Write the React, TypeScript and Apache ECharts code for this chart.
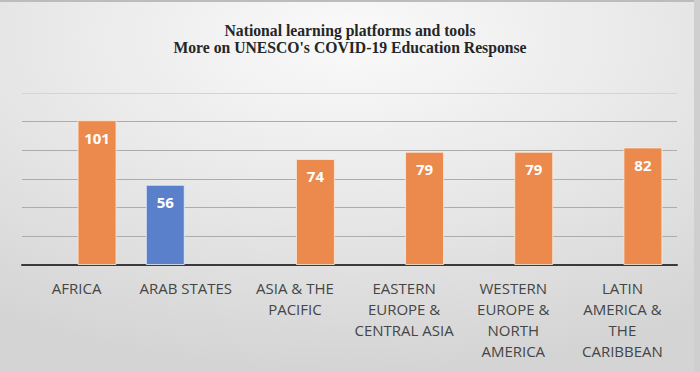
import React, { useEffect, useRef } from "react";
import * as echarts from "echarts";

const categories = [
  "AFRICA",
  "ARAB STATES",
  "ASIA & THE\nPACIFIC",
  "EASTERN\nEUROPE &\nCENTRAL ASIA",
  "WESTERN\nEUROPE &\nNORTH\nAMERICA",
  "LATIN\nAMERICA &\nTHE\nCARIBBEAN",
];
const blueValues = [null, 56, null, null, null, null];
const orangeValues = [101, null, 74, 79, 79, 82];
const titleLines = ["National learning platforms and tools", "More on UNESCO's COVID-19 Education Response"];
const axisMax = 120;

export default function App() {
  const ref = useRef<HTMLDivElement>(null);
  useEffect(() => {
    document.body.style.margin = "0";
    const chart = echarts.init(ref.current!, null, { renderer: "svg" });
    const label = {
      show: true,
      position: "insideTop",
      distance: 10,
      color: "#ffffff",
      fontSize: 15,
      fontWeight: "bold",
      fontFamily: "Open Sans",
    };
    chart.setOption({
      animation: false,
      backgroundColor: new echarts.graphic.RadialGradient(0.5, 0.1, 0.9, [
        { offset: 0, color: "#fafafa" },
        { offset: 0.5, color: "#e8e8e8" },
        { offset: 1, color: "#d4d4d4" },
      ]),
      title: {
        text: titleLines.join("\n"),
        left: "center",
        top: 17,
        textStyle: {
          fontFamily: "Liberation Serif",
          fontWeight: "bold",
          fontSize: 15.7,
          color: "#262626",
          lineHeight: 17,
        },
      },
      graphic: [
        { type: "rect", left: 0, top: 0, shape: { width: 700, height: 2 }, style: { fill: "#bcbcbc" } },
        { type: "rect", right: 0, top: 0, shape: { width: 6, height: 372 }, style: { fill: "#cfcfcf" } },
      ],
      grid: { left: 22, right: 23, top: 93, bottom: 107 },
      xAxis: {
        type: "category",
        data: categories,
        axisTick: { show: false },
        axisLine: { lineStyle: { color: "#3a3a3a", width: 2 } },
        axisLabel: {
          interval: 0,
          margin: 12,
          fontFamily: "Open Sans",
          fontSize: 15,
          lineHeight: 21,
          color: "#454545",
        },
      },
      yAxis: {
        type: "value",
        min: 0,
        max: axisMax,
        interval: 20,
        axisLabel: { show: false },
        axisLine: { show: false },
        axisTick: { show: false },
        splitLine: {
          showMaxLine: false,
          lineStyle: { color: "#acacac", width: 1 },
        },
      },
      series: [
        {
          type: "bar",
          data: blueValues,
          barWidth: 39,
          barGap: "5%",
          itemStyle: { color: "#5a80cc", borderColor: "rgba(235,240,250,0.8)", borderWidth: 1 },
          label,
          markLine: {
            silent: true,
            symbol: "none",
            label: { show: false },
            lineStyle: { color: "#d4d4d4", type: "solid", width: 1 },
            data: [{ yAxis: axisMax }],
          },
        },
        {
          type: "bar",
          data: orangeValues,
          barWidth: 39,
          barGap: "5%",
          itemStyle: { color: "#eb8a4c", borderColor: "rgba(250,235,220,0.8)", borderWidth: 1 },
          label,
        },
      ],
    });
    return () => chart.dispose();
  }, []);
  return <div ref={ref} style={{ width: 700, height: 372 }} />;
}
